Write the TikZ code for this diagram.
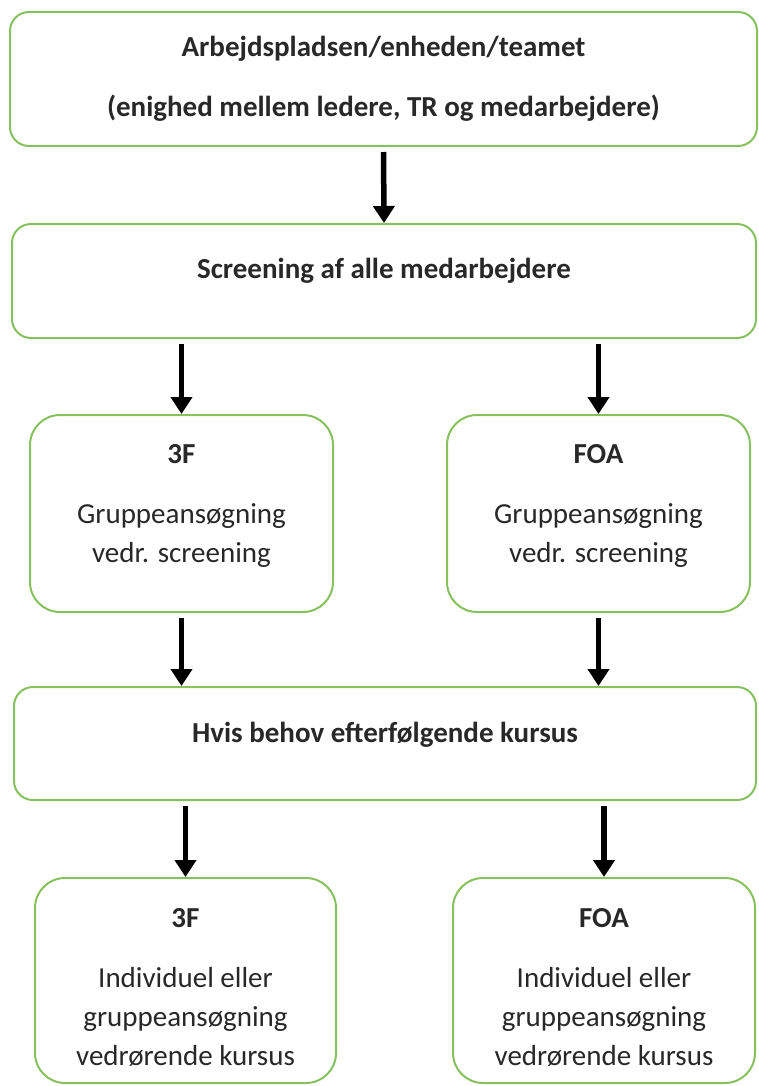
\documentclass[tikz,border=0pt]{standalone}
\usepackage{fontspec}
\setmainfont{Carlito}
\usetikzlibrary{arrows.meta}

\definecolor{boxgreen}{RGB}{135,192,95}
\definecolor{textgray}{RGB}{40,40,40}

\newcommand{\padbelow}[1]{\rule[-#1]{0pt}{#1}}
\newcommand{\padabove}[1]{\rule{0pt}{#1}}

\tikzstyle{box} = [draw=boxgreen,line width=2pt,inner sep=0pt,align=center,text=textgray,
  font=\fontsize{29}{39}\selectfont]
\tikzstyle{widebox} = [box,rounded corners=19pt,font=\fontsize{29}{39}\selectfont\bfseries]
\tikzstyle{smallbox} = [box,rounded corners=30pt]
\tikzstyle{arrow} = [line width=5.5pt,-{Triangle[width=21pt,length=17pt]},shorten <=5pt]

\begin{document}
\begin{tikzpicture}[x=1pt,y=-1pt]
\useasboundingbox (0,0) rectangle (758,1086);

% Top boxes
\node [widebox,minimum width=747,minimum height=134] (work) at (383.5,79)
  {Arbejdspladsen/enheden/teamet\\[21pt](enighed mellem ledere, TR og medarbejdere)};
\node [widebox,minimum width=744,minimum height=114] (screen) at (384,281)
  {Screening af alle medarbejdere\padbelow{26pt}};

% Screening per union
\node [smallbox,minimum width=303,minimum height=197] (screenf) at (181.5,513.5)
  {\textbf{3F}\\[21pt]Gruppeansøgning\\vedr. screening\padbelow{21pt}};
\node [smallbox,minimum width=303,minimum height=197] (screenfoa) at (598.5,513.5)
  {\textbf{FOA}\\[21pt]Gruppeansøgning\\vedr. screening\padbelow{21pt}};

% Course
\node [widebox,minimum width=742,minimum height=113] (course) at (385,743.5)
  {Hvis behov efterfølgende kursus\padbelow{23pt}};

% Course per union
\node [smallbox,minimum width=301,minimum height=205] (coursef) at (185.5,980.5)
  {\padabove{33pt}\textbf{3F}\\[21pt]Individuel eller\\gruppeansøgning\\vedrørende kursus};
\node [smallbox,minimum width=302,minimum height=205] (coursefoa) at (604,980.5)
  {\padabove{33pt}\textbf{FOA}\\[21pt]Individuel eller\\gruppeansøgning\\vedrørende kursus};

% Arrows
\draw [arrow] (work.south) -- (screen.north);
\draw [arrow] (screen.south -| screenf.north) -- (screenf.north);
\draw [arrow] (screen.south -| screenfoa.north) -- (screenfoa.north);
\draw [arrow] (screenf.south) -- (screenf.south |- course.north);
\draw [arrow] (screenfoa.south) -- (screenfoa.south |- course.north);
\draw [arrow] (course.south -| coursef.north) -- (coursef.north);
\draw [arrow] (course.south -| coursefoa.north) -- (coursefoa.north);

\end{tikzpicture}
\end{document}
